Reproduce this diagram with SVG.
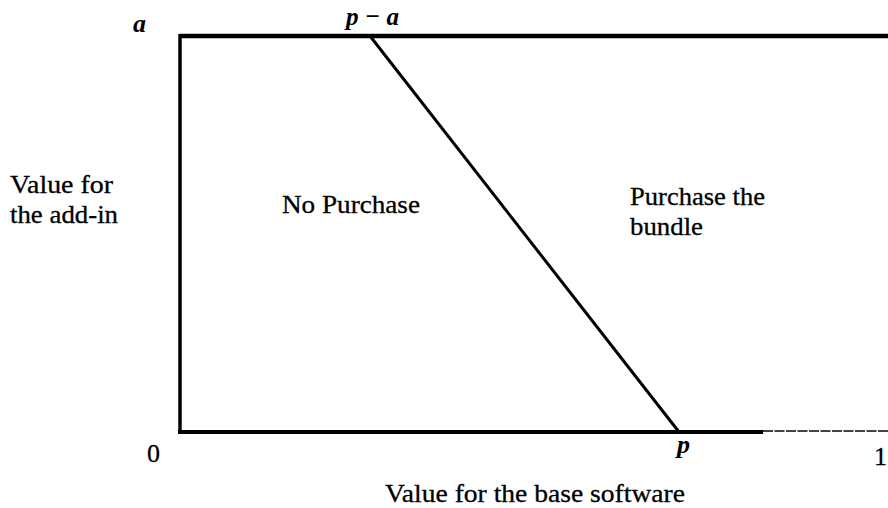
<svg xmlns="http://www.w3.org/2000/svg" width="888" height="508" viewBox="0 0 888 508">
  <style>
    .t { font-family: "Liberation Serif", "Times New Roman", serif; font-size: 26px; fill: #000; stroke: #000; stroke-width: 0.3; }
    .v { font-family: "Liberation Serif", "Times New Roman", serif; font-size: 26px; font-style: italic; font-weight: bold; fill: #000; }
    .ln { stroke: #000; fill: none; }
  </style>
  <rect width="888" height="508" fill="#fff"/>
  <g id="axes">
    <path class="ln" d="M180,36 H888" stroke-width="4.5"/>
    <path class="ln" d="M180,34 V434" stroke-width="3.5"/>
    <path class="ln" d="M178,432 H763" stroke-width="4"/>
    <path d="M763,431 H888" stroke="#444" stroke-width="2" stroke-dasharray="10 1.5" fill="none"/>
  </g>
  <g id="connectors">
    <path class="ln" d="M370,36 L679,432" stroke-width="3"/>
  </g>
  <g id="labels">
    <text class="v" x="133" y="32">a</text>
    <text class="v" x="346" y="25" textLength="53" lengthAdjust="spacingAndGlyphs">p − a</text>
    <text class="v" x="677" y="453">p</text>
    <text class="t" x="147" y="462">0</text>
    <text class="t" x="874" y="465">1</text>
    <text class="t" x="10" y="193" textLength="103" lengthAdjust="spacingAndGlyphs">Value for</text>
    <text class="t" x="10" y="223" textLength="108" lengthAdjust="spacingAndGlyphs">the add-in</text>
    <text class="t" x="282" y="213" textLength="138" lengthAdjust="spacingAndGlyphs">No Purchase</text>
    <text class="t" x="630" y="205" textLength="135" lengthAdjust="spacingAndGlyphs">Purchase the</text>
    <text class="t" x="630" y="235" textLength="73" lengthAdjust="spacingAndGlyphs">bundle</text>
    <text class="t" x="385" y="502" textLength="300" lengthAdjust="spacingAndGlyphs">Value for the base software</text>
  </g>
</svg>
